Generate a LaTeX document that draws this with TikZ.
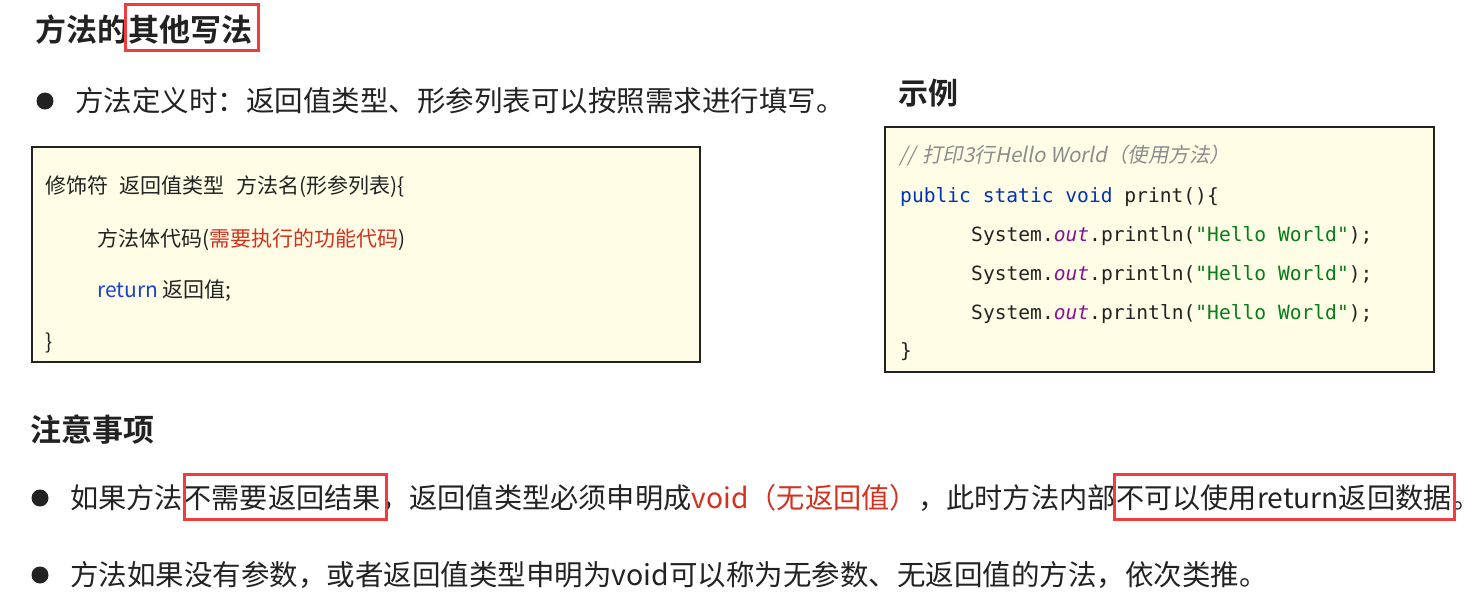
\documentclass[tikz,border=0pt]{standalone}
\usepackage{fontspec}
\setmainfont{Noto Sans CJK SC}[BoldFont={Noto Sans CJK SC Bold}]
\newfontfamily\cjkit{Noto Sans CJK SC}[FakeSlant=0.2]
\newfontfamily\code{DejaVu Sans Mono}
\definecolor{ink}{HTML}{222222}
\definecolor{boxfill}{HTML}{FFFDE6}
\definecolor{hlred}{HTML}{F03C3C}
\definecolor{txtred}{HTML}{D2321E}
\definecolor{kwblue}{HTML}{0033B3}
\definecolor{retblue}{HTML}{1A44C8}
\definecolor{fieldpurple}{HTML}{871094}
\definecolor{strgreen}{HTML}{067D17}
\definecolor{cmtgray}{HTML}{8C8C8C}
\begin{document}
\begin{tikzpicture}[x=1pt,y=-1pt,
  txt/.style={inner sep=0pt, anchor=base west, text=ink},
  head/.style={txt, font=\fontsize{31}{36}\selectfont\bfseries},
  body/.style={txt, font=\fontsize{28.5}{34}\selectfont},
  body2/.style={txt, font=\fontsize{28.2}{34}\selectfont},
  boxtxt/.style={txt, font=\fontsize{21}{24}\selectfont},
  codetxt/.style={txt, font=\code\fontsize{19.6}{24}\selectfont},
  cmttxt/.style={txt, text=cmtgray, font=\cjkit\fontsize{20.5}{24}\selectfont},
  panel/.style={draw=ink, line width=2pt, fill=boxfill},
  hlbox/.style={draw=hlred, line width=3pt},
  dot/.style={circle, fill=ink, inner sep=0pt, minimum size=17pt}]
\useasboundingbox (0,0) rectangle (1479,595);
\fill[white] (0,0) rectangle (1479,595);

% title
\node[head] (t1) at (35,41) {方法的};
\node[head] (t2) at (t1.base east) {其他写法};
\draw[hlbox] ([xshift=-3pt,yshift=10pt]t2.north west) rectangle ([xshift=6pt,yshift=-7pt]t2.south east);

% bullet 1
\node[dot] (d1) at (45,101) {};
\node[body] (b1) at (75,111.8) {方法定义时：返回值类型、形参列表可以按照需求进行填写。};

% left panel
\draw[panel] (32,147) rectangle (700,362);
\node[boxtxt] (p1) at (45,193) {修饰符\hspace{0.55em}返回值类型\hspace{0.55em}方法名(形参列表)\{};
\node[boxtxt] (p2) at (97,246) {方法体代码(\textcolor{txtred}{需要执行的功能代码})};
\node[boxtxt] (p3) at (97,297) {\textcolor{retblue}{return} 返回值;};
\node[boxtxt] (p4) at (45,349) {\}};

% example
\node[head, font=\fontsize{30}{36}\selectfont\bfseries] (ex) at (898,104.4) {示例};
\draw[panel] (885,127) rectangle (1434,372);
\node[cmttxt] (c0) at (899,162.8) {//\hspace{0.35em}打印3行Hello World（使用方法）};
\node[codetxt] (c1) at (900,202) {\textcolor{kwblue}{public static void} print()\{};
\node[codetxt] (c2) at (971,241) {System.\textcolor{fieldpurple}{\itshape out}.println(\textcolor{strgreen}{"Hello World"});};
\node[codetxt] (c3) at (971,280) {System.\textcolor{fieldpurple}{\itshape out}.println(\textcolor{strgreen}{"Hello World"});};
\node[codetxt] (c4) at (971,319) {System.\textcolor{fieldpurple}{\itshape out}.println(\textcolor{strgreen}{"Hello World"});};
\node[codetxt] (c5) at (900,357) {\}};

% notes
\node[head] (n0) at (30,441.4) {注意事项};

\node[dot] (d2) at (40,498) {};
\node[body2] (b2a) at (70,508.7) {如果方法};
\node[body2] (b2b) at (b2a.base east) {不需要返回结果};
\node[body2] (b2c) at (b2b.base east) {，返回值类型必须申明成};
\node[body2, text=txtred] (b2d) at (b2c.base east) {void（无返回值）};
\node[body2] (b2e) at (b2d.base east) {，此时方法内部};
\node[body2] (b2f) at (b2e.base east) {不可以使用return返回数据};
\node[body2] (b2g) at (b2f.base east) {\makebox[0.45em][l]{。}};
\draw[hlbox] ([xshift=1pt,yshift=10pt]b2b.north west) rectangle ([xshift=5pt,yshift=-8pt]b2b.south east);
\draw[hlbox] ([xshift=-1pt,yshift=10pt]b2f.north west) rectangle ([xshift=3pt,yshift=-8pt]b2f.south east);

\node[dot] (d3) at (40,575) {};
\node[body] (b3) at (70,585.8) {方法如果没有参数，或者返回值类型申明为void可以称为无参数、无返回值的方法，依次类推。};
\end{tikzpicture}
\end{document}
